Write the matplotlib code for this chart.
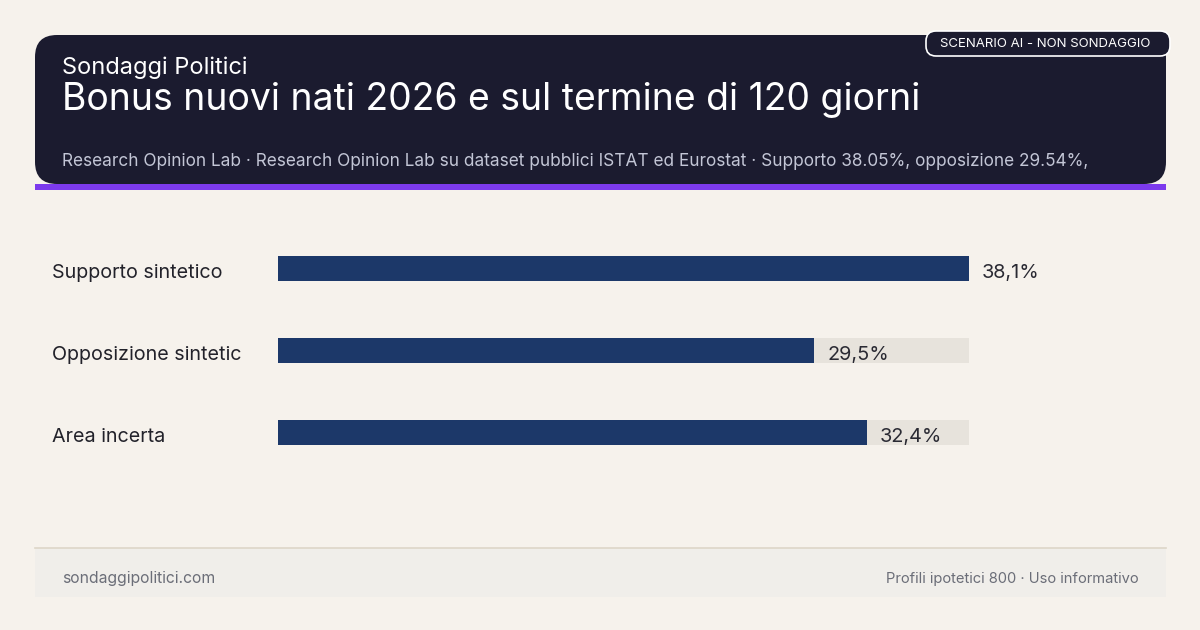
import matplotlib
matplotlib.use("Agg")
import matplotlib.pyplot as plt
from matplotlib.patches import FancyBboxPatch, Rectangle

plt.rcParams['font.family'] = ['Inter', 'DejaVu Sans']

categories = ["Supporto sintetico", "Opposizione sintetic", "Area incerta"]
values = [38.05, 29.54, 32.41]
value_labels = ["38,1%", "29,5%", "32,4%"]

kicker = "Sondaggi Politici"
title = "Bonus nuovi nati 2026 e sul termine di 120 giorni"
subtitle = ("Research Opinion Lab · Research Opinion Lab su dataset pubblici ISTAT ed Eurostat · "
            "Supporto 38.05%, opposizione 29.54%,")
badge = "SCENARIO AI - NON SONDAGGIO"
footer_left = "sondaggipolitici.com"
footer_right = "Profili ipotetici 800 · Uso informativo"

W, H = 1200, 630
BG = "#f6f2ec"
HEADER = "#1b1b2f"
PURPLE = "#7c3aed"
BAR = "#1c3869"
TRACK = "#e7e3dc"

fig = plt.figure(figsize=(W / 100, H / 100), dpi=100)
fig.patch.set_facecolor(BG)

# overlay axes in pixel coordinates
ov = fig.add_axes([0, 0, 1, 1])
ov.set_xlim(0, W)
ov.set_ylim(H, 0)
ov.axis("off")

# header box
ov.add_patch(FancyBboxPatch((35, 35), 1131, 149, boxstyle="round,pad=0,rounding_size=22",
                            facecolor=HEADER, edgecolor="none", zorder=1))
ov.add_patch(Rectangle((35, 184), 1131, 6, facecolor=PURPLE, edgecolor="none", zorder=2))

# badge
ov.add_patch(FancyBboxPatch((926, 31), 244, 25, boxstyle="round,pad=0,rounding_size=10",
                            facecolor=HEADER, edgecolor="white", linewidth=1.2, zorder=3))
ov.text(1045, 44, badge, color="white", fontsize=9.5, ha="center", va="center", zorder=4)

ov.text(62, 68, kicker, color="white", fontsize=17, ha="left", va="center", zorder=4)
ov.text(62, 100, title, color="white", fontsize=26.9, ha="left", va="center", zorder=4)
ov.text(62, 161, subtitle, color="#c3c6d6", fontsize=12.4, ha="left", va="center", zorder=4)

# footer
ov.add_patch(Rectangle((35, 548), 1131, 49, facecolor="#f0eeea", edgecolor="none", zorder=1))
ov.plot([35, 1166], [548, 548], color="#ddd6c8", linewidth=1.2, zorder=2)
ov.text(62, 579, footer_left, color="#6b6e78", fontsize=11.3, ha="left", va="center", zorder=3)
ov.text(1139, 579, footer_right, color="#6b6e78", fontsize=10.6, ha="right", va="center", zorder=3)

# bar axes
left_px, right_px = 278, 969
top_px, bot_px = 227.5, 473.5
ax = fig.add_axes([left_px / W, 1 - bot_px / H, (right_px - left_px) / W, (bot_px - top_px) / H])
ax.set_facecolor("none")
vmax = max(values)
ax.set_xlim(0, vmax)
ax.set_ylim(len(categories) - 0.5, -0.5)
ax.axis("off")

ypos = list(range(len(categories)))
bh = 25 / 82
ax.barh(ypos, [vmax] * len(values), height=bh, color=TRACK, zorder=1)
ax.barh(ypos, values, height=bh, color=BAR, zorder=2)

px_per_unit = vmax / (right_px - left_px)
dy = 4.5 / 82
for y, v, lab, cat in zip(ypos, values, value_labels, categories):
    ax.text(v + 13 * px_per_unit, y + dy, lab, color="#2a2a33", fontsize=14.3,
            ha="left", va="center", zorder=3)
    ax.text(-(left_px - 52) * px_per_unit, y + dy, cat, color="#22222a", fontsize=14.2,
            ha="left", va="center", zorder=3, clip_on=False)

fig.savefig("out.png", dpi=100, facecolor=BG)
